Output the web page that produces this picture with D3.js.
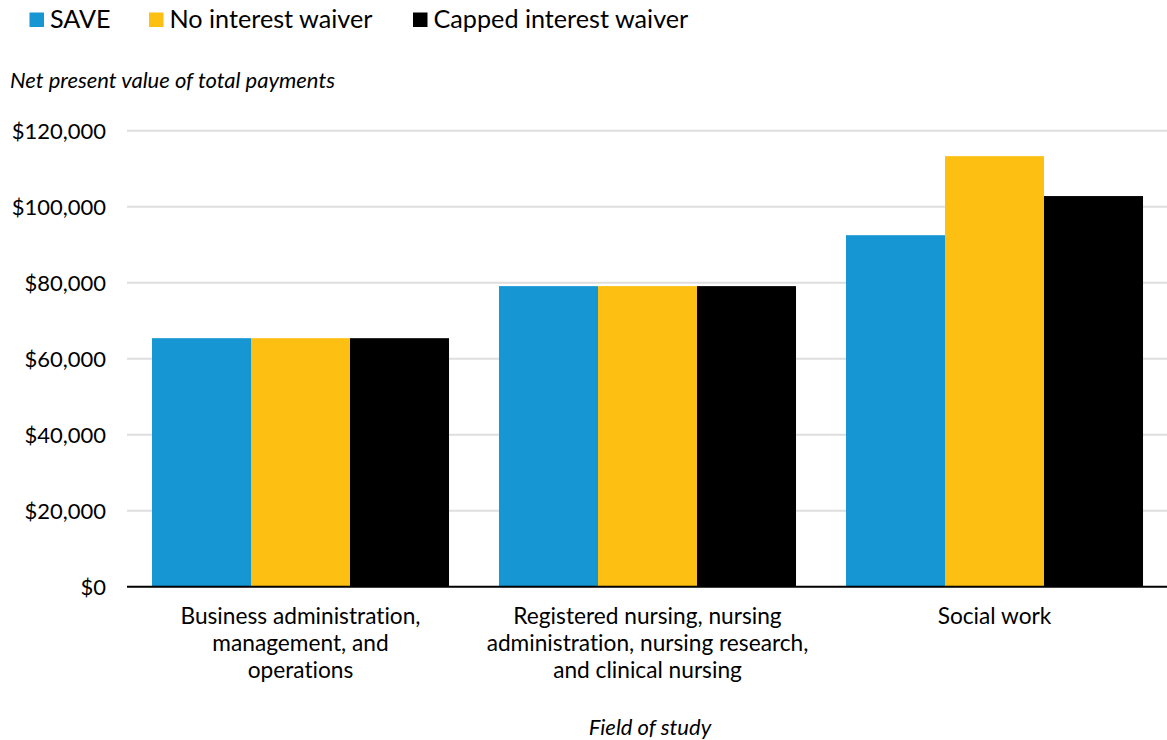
<!DOCTYPE html>
<html>
<head>
<meta charset="utf-8">
<script src="https://cdn.jsdelivr.net/npm/d3@7"></script>
<style>
  html, body { margin: 0; padding: 0; background: #fff; }
  svg { display: block; font-family: Lato, "Noto Sans", sans-serif; font-variant-ligatures: none; font-feature-settings: "liga" 0, "dlig" 0; }
</style>
</head>
<body>
<svg id="chart" width="1167" height="740"></svg>
<script>
const categories = [
  ["Business administration,", "management, and", "operations"],
  ["Registered nursing, nursing", "administration, nursing research,", "and clinical nursing"],
  ["Social work"]
];
const categoryKeys = ["Business", "Nursing", "Social work"];
const seriesNames = ["SAVE", "No interest waiver", "Capped interest waiver"];
const seriesColors = ["#1696d2", "#fdbf11", "#000000"];
const saveValues = [65400, 79100, 92500];
const noWaiverValues = [65400, 79100, 113300];
const cappedValues = [65400, 79100, 102800];
const yTicks = [0, 20000, 40000, 60000, 80000, 100000, 120000];
const yTitle = "Net present value of total payments";
const xTitle = "Field of study";

const seriesValues = [saveValues, noWaiverValues, cappedValues];

const svg = d3.select("#chart");
const plotLeft = 127, plotRight = 1167, plotTop = 130.7, plotBottom = 586.7;

const x0 = d3.scaleBand().domain(categoryKeys).range([plotLeft, plotRight + 1])
  .paddingInner(0.144).paddingOuter(0.072);
const x1 = d3.scaleBand().domain(seriesNames).range([0, x0.bandwidth()]);
const y = d3.scaleLinear().domain([0, 120000]).range([plotBottom, plotTop]);

// gridlines
svg.append("g").selectAll("line").data(yTicks.filter(d => d > 0)).join("line")
  .attr("x1", plotLeft).attr("x2", plotRight)
  .attr("y1", d => y(d)).attr("y2", d => y(d))
  .attr("stroke", "#dedede").attr("stroke-width", 2);

// y axis labels
const yAxis = d3.axisLeft(y).tickValues(yTicks).tickSize(0).tickPadding(0)
  .tickFormat(d => "$" + d3.format(",")(d));
const yg = svg.append("g").attr("transform", `translate(106,0)`).call(yAxis);
yg.select(".domain").remove();
yg.selectAll("text").attr("font-size", 22).attr("fill", "#000")
  .attr("font-family", "Lato, sans-serif").attr("dy", "0.36em");

// bars
const groups = svg.append("g").selectAll("g").data(categoryKeys).join("g")
  .attr("transform", d => `translate(${x0(d)},0)`);
groups.selectAll("rect").data((d, i) => seriesNames.map((s, j) => ({s, j, v: seriesValues[j][i]})))
  .join("rect")
  .attr("x", d => x1(d.s))
  .attr("width", x1.bandwidth())
  .attr("y", d => y(d.v))
  .attr("height", d => y(0) - y(d.v))
  .attr("fill", d => seriesColors[d.j]);

// baseline axis
const xAxis = d3.axisBottom(x0).tickSize(0).tickFormat("");
const xg = svg.append("g").attr("transform", `translate(0,${plotBottom})`).call(xAxis);
xg.select(".domain").attr("stroke", "#000").attr("stroke-width", 2)
  .attr("d", `M${plotLeft},0H${plotRight}`);

// category labels
categoryKeys.forEach((k, i) => {
  const t = svg.append("text")
    .attr("x", x0(k) + x0.bandwidth() / 2)
    .attr("y", 624)
    .attr("text-anchor", "middle")
    .attr("font-size", 22.7).attr("fill", "#000");
  categories[i].forEach((line, li) => {
    t.append("tspan").attr("x", x0(k) + x0.bandwidth() / 2)
      .attr("y", 624 + li * 26.8).text(line);
  });
});

// titles
svg.append("text").attr("x", 10).attr("y", 88)
  .attr("font-size", 22).attr("font-style", "italic").attr("fill", "#000")
  .text(yTitle);
svg.append("text").attr("x", (plotLeft + plotRight) / 2 + 3).attr("y", 735)
  .attr("text-anchor", "middle")
  .attr("font-size", 22).attr("font-style", "italic").attr("fill", "#000")
  .text(xTitle);

// legend
const legendX = [29.5, 149, 413];
const lg = svg.append("g").selectAll("g").data(seriesNames).join("g")
  .attr("transform", (d, i) => `translate(${legendX[i]},0)`);
lg.append("rect").attr("x", 0).attr("y", 12.5).attr("width", 14.5).attr("height", 14.5)
  .attr("fill", (d, i) => seriesColors[i]);
lg.append("text").attr("x", 20.5).attr("y", 27.5)
  .attr("font-size", 25.2).attr("fill", "#000").text(d => d);
</script>
</body>
</html>
